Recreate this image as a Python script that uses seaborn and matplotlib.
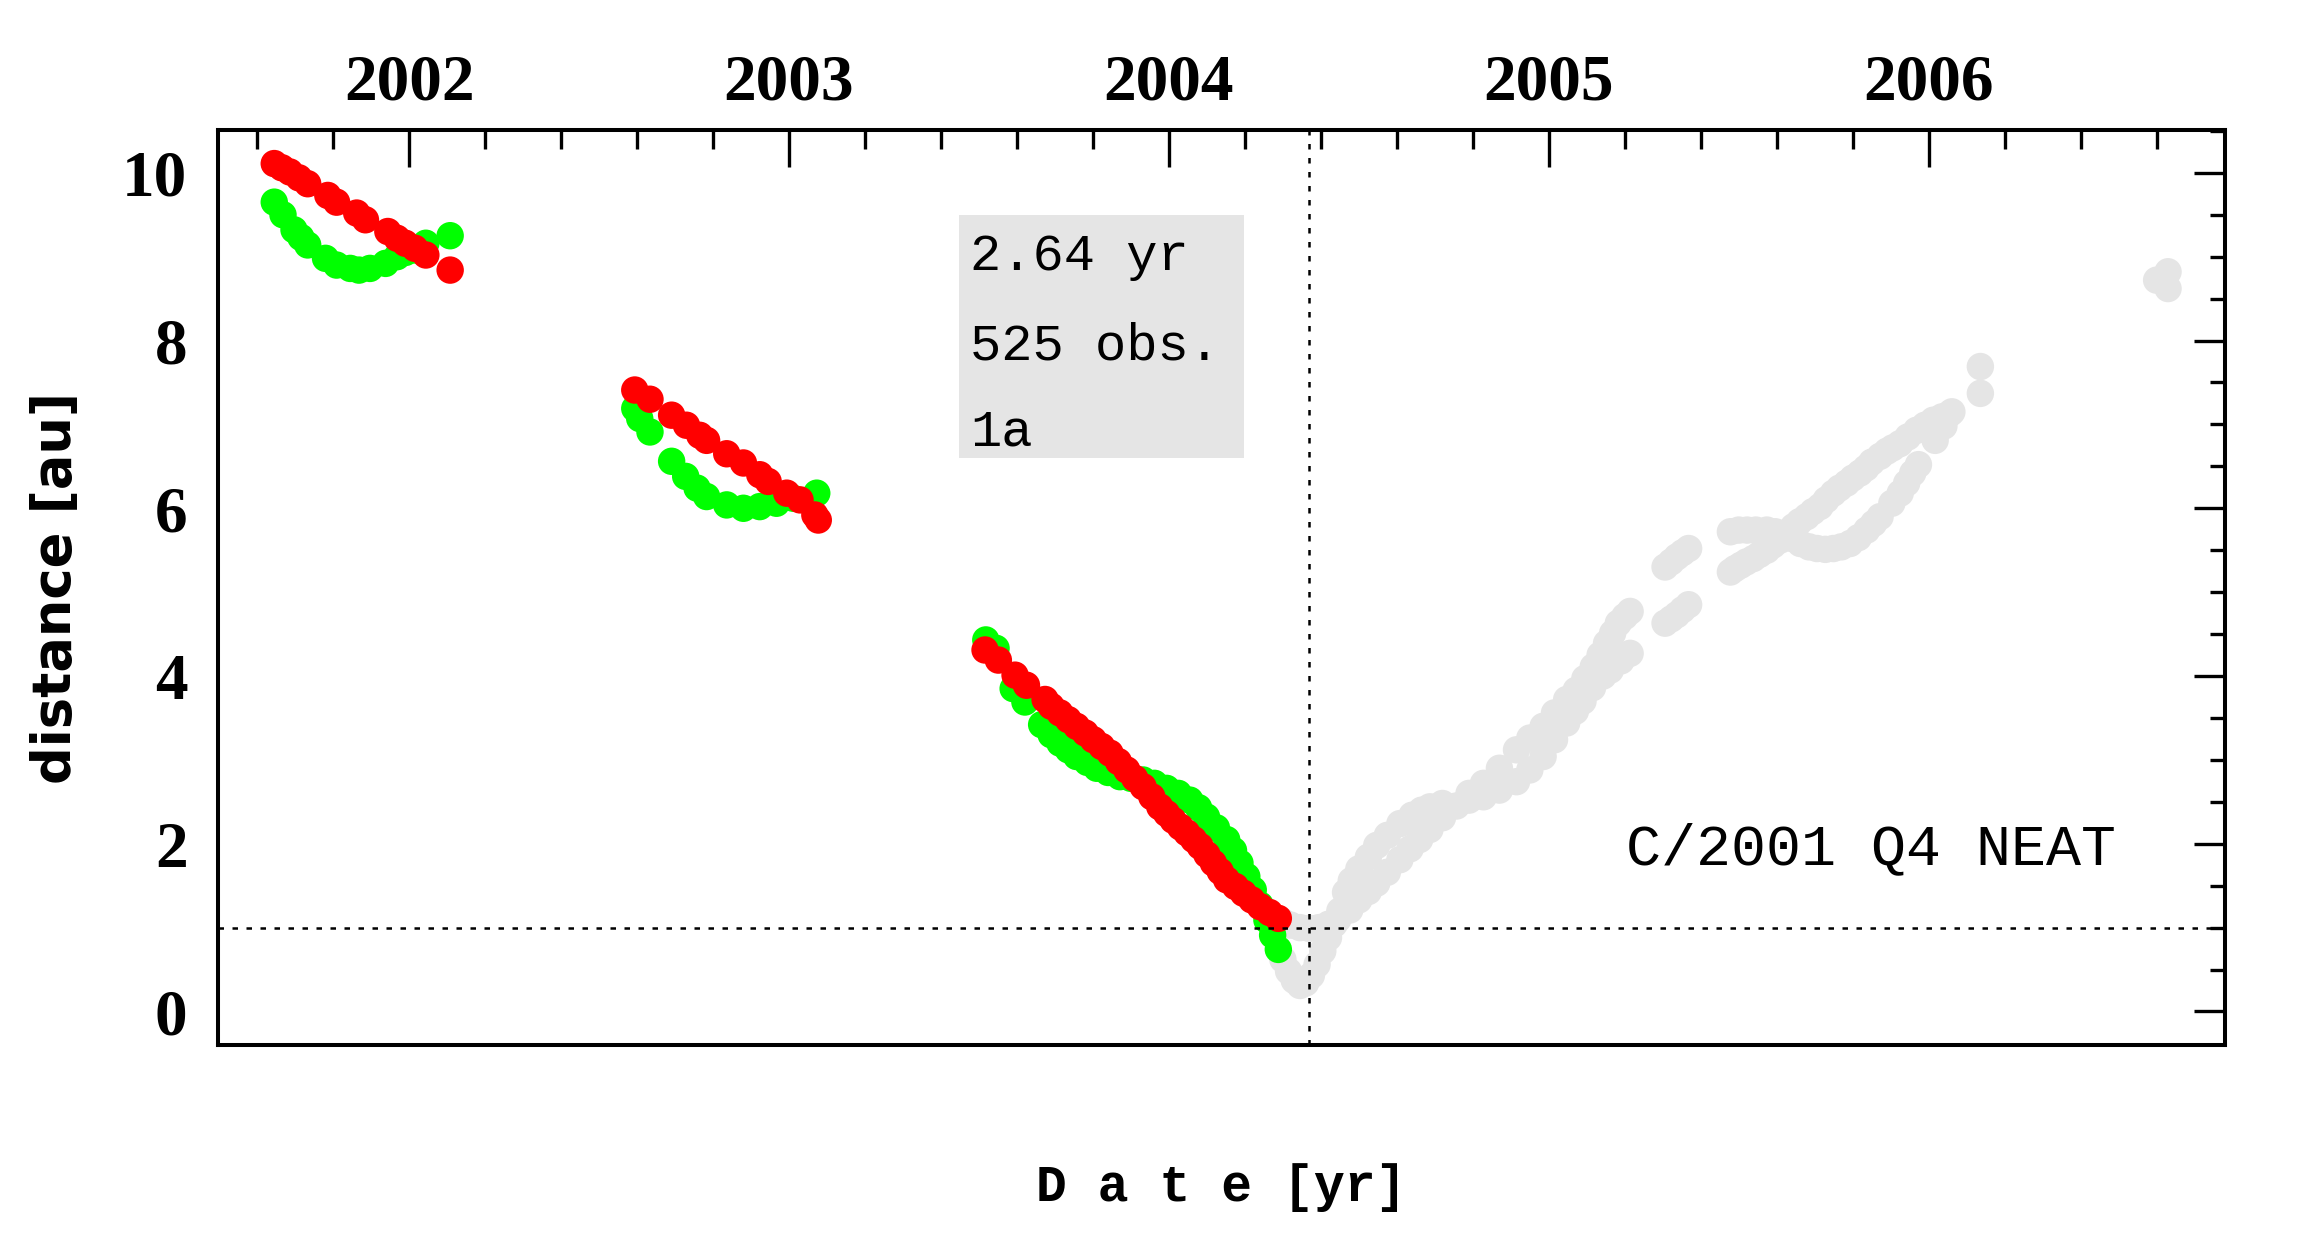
#
#   Distance of comet C/2001 Q4 (NEAT) from the Sun and the Earth
#
import pandas as pd
import seaborn as sns
from matplotlib import pyplot as plt
from matplotlib import ticker as ticktools
from matplotlib.patches import Rectangle

# heliocentric distance, observations used in the fit (red)
helio_t = [2001.645, 2001.665, 2001.686, 2001.710, 2001.733, 2001.786, 2001.809,
           2001.862, 2001.885, 2001.944, 2001.968, 2001.990, 2002.015, 2002.044,
           2002.108,
           2002.594, 2002.634, 2002.691, 2002.730, 2002.765, 2002.783, 2002.836,
           2002.880, 2002.923, 2002.945, 2002.994, 2003.029, 2003.068, 2003.077,
           2003.516, 2003.551, 2003.595, 2003.625, 2003.674, 2003.690, 2003.713,
           2003.735, 2003.757, 2003.780, 2003.801, 2003.823, 2003.845, 2003.867,
           2003.889, 2003.910, 2003.932, 2003.955, 2003.976, 2003.994, 2004.011,
           2004.030, 2004.047, 2004.065, 2004.082, 2004.100, 2004.117, 2004.135,
           2004.152, 2004.175, 2004.196, 2004.218, 2004.240, 2004.265, 2004.288]
helio_d = [10.11, 10.06, 10.01, 9.94, 9.87, 9.73, 9.65,
           9.52, 9.44, 9.30, 9.22, 9.16, 9.10, 9.02,
           8.84,
           7.41, 7.30, 7.11, 6.99, 6.87, 6.81, 6.65,
           6.54, 6.40, 6.32, 6.18, 6.10, 5.92, 5.86,
           4.31, 4.19, 4.01, 3.89, 3.72, 3.64, 3.56,
           3.48, 3.40, 3.32, 3.24, 3.16, 3.08, 2.98,
           2.88, 2.78, 2.68, 2.56, 2.44, 2.36, 2.28,
           2.20, 2.13, 2.05, 1.97, 1.87, 1.77, 1.67,
           1.57, 1.49, 1.41, 1.33, 1.25, 1.18, 1.11]

# geocentric distance, observations used in the fit (green)
geo_t = [2001.645, 2001.668, 2001.697, 2001.715, 2001.733, 2001.780, 2001.809,
         2001.845, 2001.868, 2001.897, 2001.938, 2001.968, 2001.990, 2002.015,
         2002.044, 2002.108,
         2002.594, 2002.607, 2002.634, 2002.691, 2002.728, 2002.758, 2002.783,
         2002.836, 2002.880, 2002.923, 2002.967, 2003.011, 2003.073,
         2003.518, 2003.545, 2003.590, 2003.621, 2003.665, 2003.690, 2003.713,
         2003.735, 2003.757, 2003.785, 2003.810, 2003.840, 2003.871, 2003.900,
         2003.932, 2003.962, 2003.994, 2004.025, 2004.055, 2004.078, 2004.099,
         2004.125, 2004.152, 2004.170, 2004.187, 2004.205, 2004.222, 2004.240,
         2004.258, 2004.273, 2004.288]
geo_d = [9.65, 9.50, 9.32, 9.23, 9.14, 8.98, 8.90,
         8.86, 8.84, 8.86, 8.92, 9.00, 9.05, 9.08,
         9.16, 9.25,
         7.19, 7.07, 6.91, 6.56, 6.38, 6.24, 6.14,
         6.04, 6.00, 6.02, 6.06, 6.12, 6.18,
         4.43, 4.33, 3.85, 3.69, 3.42, 3.30, 3.20,
         3.12, 3.04, 2.97, 2.90, 2.85, 2.80, 2.78,
         2.76, 2.72, 2.66, 2.60, 2.52, 2.43, 2.32,
         2.19, 2.05, 1.92, 1.77, 1.61, 1.45, 1.27,
         1.09, 0.91, 0.74]

# remaining observations, heliocentric and geocentric (grey)
other_t = [2004.300, 2004.320, 2004.345, 2004.370, 2004.395, 2004.420, 2004.445,
           2004.476, 2004.500, 2004.525, 2004.547, 2004.575, 2004.608, 2004.635,
           2004.660, 2004.687, 2004.720, 2004.757, 2004.790, 2004.828, 2004.870,
           2004.915, 2004.950, 2004.985, 2005.015, 2005.047, 2005.072, 2005.095,
           2005.117, 2005.135, 2005.152, 2005.168, 2005.183, 2005.200, 2005.214,
           2004.300, 2004.315, 2004.330, 2004.345, 2004.360, 2004.375, 2004.390,
           2004.405, 2004.420, 2004.435, 2004.450, 2004.465, 2004.480, 2004.500,
           2004.525, 2004.547, 2004.575, 2004.608, 2004.640, 2004.665, 2004.687,
           2004.720, 2004.790, 2004.828, 2004.870, 2004.915, 2004.950, 2004.985,
           2005.015, 2005.047, 2005.070, 2005.090, 2005.115, 2005.143, 2005.162,
           2005.190, 2005.214,
           2005.306, 2005.322, 2005.337, 2005.352, 2005.368,
           2005.306, 2005.322, 2005.337, 2005.352, 2005.368,
           2005.478, 2005.490, 2005.505, 2005.520, 2005.538, 2005.555, 2005.574,
           2005.590, 2005.609, 2005.625, 2005.644, 2005.660, 2005.679, 2005.695,
           2005.714, 2005.730, 2005.749, 2005.765, 2005.784, 2005.800, 2005.819,
           2005.835, 2005.850, 2005.872, 2005.890, 2005.905, 2005.924, 2005.945,
           2005.968, 2005.990, 2006.012, 2006.035, 2006.056,
           2005.478, 2005.500, 2005.522, 2005.545, 2005.574, 2005.596, 2005.618,
           2005.640, 2005.662, 2005.685, 2005.706, 2005.728, 2005.749, 2005.770,
           2005.793, 2005.815, 2005.837, 2005.855, 2005.872, 2005.903, 2005.925,
           2005.942, 2005.958, 2005.973, 2006.017, 2006.040, 2006.061,
           2006.136, 2006.136, 2006.600, 2006.630, 2006.630]
other_d = [1.07, 1.03, 1.00, 0.99, 1.00, 1.04, 1.10,
           1.21, 1.33, 1.43, 1.53, 1.66, 1.81, 1.94,
           2.05, 2.17, 2.31, 2.45, 2.60, 2.72, 2.90,
           3.12, 3.26, 3.40, 3.56, 3.72, 3.83, 3.97,
           4.11, 4.25, 4.39, 4.51, 4.63, 4.71, 4.77,
           0.62, 0.48, 0.37, 0.31, 0.34, 0.43, 0.56,
           0.72, 0.88, 1.04, 1.20, 1.42, 1.56, 1.70,
           1.84, 1.98, 2.10, 2.24, 2.34, 2.40, 2.44,
           2.48, 2.52, 2.56, 2.64, 2.74, 2.88, 3.04,
           3.24, 3.44, 3.58, 3.70, 3.86, 4.00, 4.07,
           4.18, 4.27,
           5.30, 5.36, 5.42, 5.47, 5.52,
           4.63, 4.68, 4.73, 4.79, 4.85,
           5.24, 5.28, 5.32, 5.36, 5.40, 5.45, 5.50,
           5.56, 5.62, 5.70, 5.78, 5.84, 5.90, 5.96,
           6.02, 6.10, 6.18, 6.24, 6.30, 6.36, 6.42,
           6.48, 6.55, 6.62, 6.68, 6.72, 6.77, 6.85,
           6.93, 6.99, 7.05, 7.09, 7.13,
           5.72, 5.74, 5.74, 5.74, 5.74, 5.72, 5.70,
           5.64, 5.58, 5.54, 5.52, 5.51, 5.52, 5.54,
           5.58, 5.65, 5.74, 5.82, 5.90, 6.06, 6.18,
           6.30, 6.42, 6.52, 6.81, 6.98, 7.15,
           7.69, 7.37, 8.72, 8.82, 8.62]

perihelion = 2004.37
info_lines = ["2.64 yr", "525 obs.", "1a"]
comet_name = "C/2001 Q4 NEAT"


def main():

    # one table, grey rows first so red ends up on top
    df = pd.concat([
        pd.DataFrame({"t": other_t, "dist": other_d, "set": "other"}),
        pd.DataFrame({"t": geo_t, "dist": geo_d, "set": "geo"}),
        pd.DataFrame({"t": helio_t, "dist": helio_d, "set": "helio"}),
    ], ignore_index=True)

    sns.set_style("white")
    # seaborn greys the text, the original is pure black
    plt.rcParams.update({"text.color": "black", "axes.labelcolor": "black",
                         "xtick.color": "black", "ytick.color": "black",
                         "axes.edgecolor": "black"})

    fig = plt.figure(figsize=(23, 12.42), dpi=100)
    ax = fig.add_axes([0.0948, 0.1586, 0.8726, 0.7367])

    sns.scatterplot(data=df, x="t", y="dist", hue="set",
                    palette={"other": "#e5e5e5", "geo": "#00ff00", "helio": "#ff0000"},
                    s=390, linewidth=0, alpha=1, legend=False, ax=ax, zorder=3)

    # r = 1 au and the moment of perihelion
    ax.axhline(1.0, color="black", lw=1.8, ls=(0, (2.2, 3.4)), zorder=4)
    ax.axvline(perihelion, color="black", lw=1.8, ls=(0, (2.2, 3.4)), zorder=4)

    # grey info box
    ax.add_patch(Rectangle((2003.447, 6.60), 0.75, 2.90, facecolor="#e5e5e5",
                           edgecolor="none", zorder=1))
    for txt, yy in zip(info_lines, [8.84, 7.77, 6.75]):
        ax.text(2003.476, yy, txt, family="Liberation Mono", fontsize=37.5,
                color="black", va="baseline", ha="left", zorder=2)

    ax.text(2006.494, 1.75, comet_name, family="Liberation Mono", fontsize=42,
            color="black", va="baseline", ha="right", zorder=2)

    ax.set_xlim(2001.497, 2006.780)
    ax.set_ylim(-0.40, 10.51)

    ax.xaxis.set_major_locator(ticktools.MultipleLocator(1))
    ax.xaxis.set_minor_locator(ticktools.MultipleLocator(0.2))
    ax.yaxis.set_major_locator(ticktools.MultipleLocator(2))
    ax.yaxis.set_minor_locator(ticktools.MultipleLocator(0.5))
    ax.xaxis.set_major_formatter(ticktools.FormatStrFormatter("%d"))
    ax.yaxis.set_major_formatter(ticktools.FormatStrFormatter("%d"))

    ax.tick_params(which="both", direction="in", top=True, right=True,
                   labeltop=True, labelbottom=False, width=2.4,
                   color="black", labelcolor="black")
    ax.tick_params(axis="x", which="major", length=26.6, pad=12)
    ax.tick_params(axis="x", which="minor", length=13.7)
    ax.tick_params(axis="y", which="major", length=22, pad=22)
    ax.tick_params(axis="y", which="minor", length=10.5)

    for lab in ax.get_xticklabels() + ax.get_yticklabels():
        lab.set_family("Liberation Serif")
        lab.set_fontweight("bold")
        lab.set_fontsize(47)

    for side in ax.spines.values():
        side.set_linewidth(2.9)
        side.set_color("black")

    ax.set_xlabel("D a t e [yr]", family="Liberation Mono", fontweight="bold",
                  fontsize=37, color="black")
    ax.xaxis.set_label_coords(0.5, -0.129)
    ax.set_ylabel("distance [au]", family="DejaVu Sans", fontweight="bold",
                  fontsize=38, color="black")
    ax.yaxis.set_label_coords(-0.068, 0.5)

    fig.savefig("out.png", dpi=100)


main()
